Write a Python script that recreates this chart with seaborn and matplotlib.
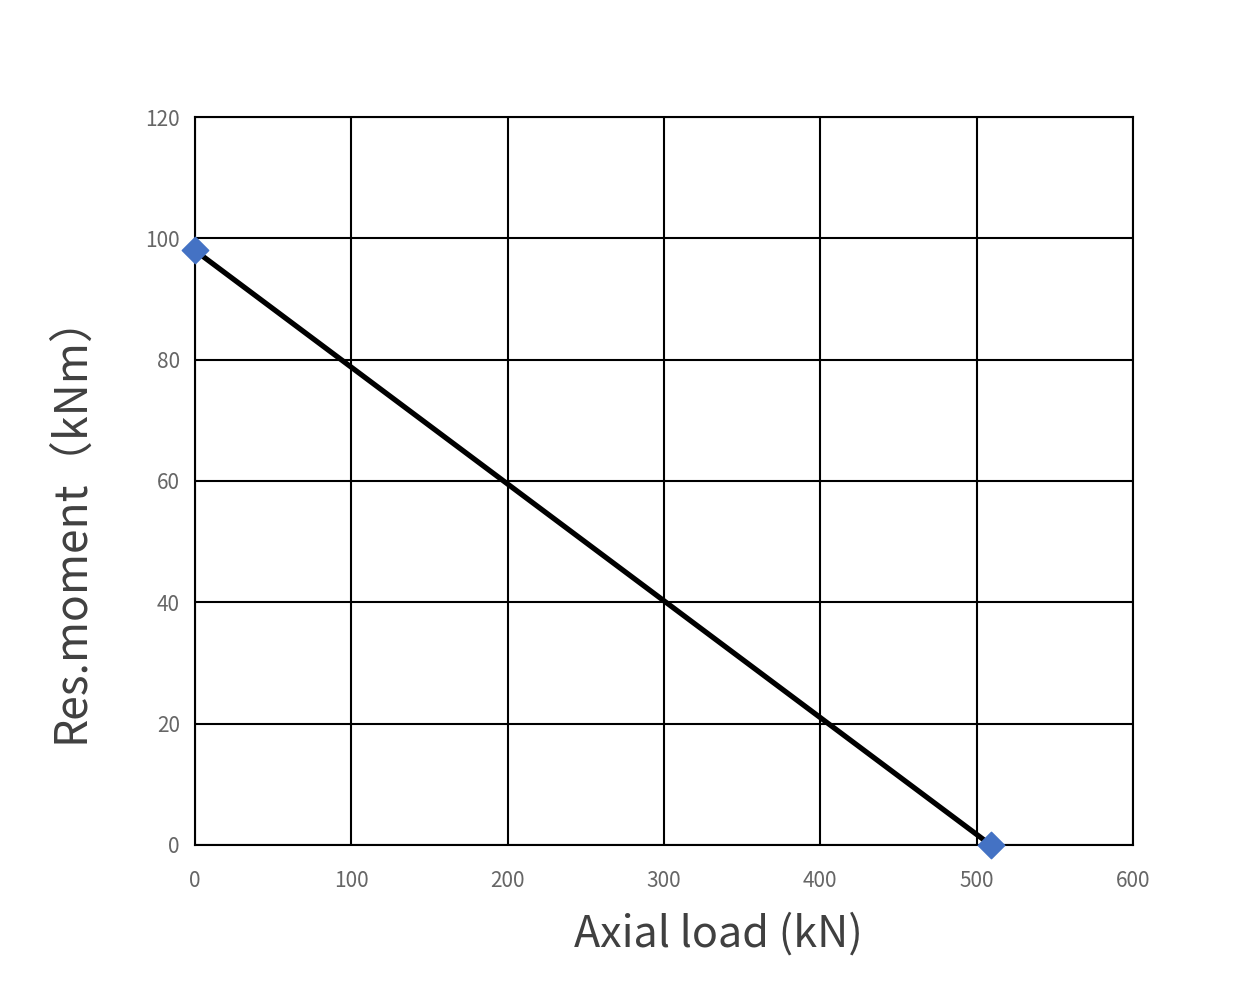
import numpy as np
import matplotlib.pyplot as plt
import pandas as pd
import seaborn as sns

sns.set_style("white")
plt.rcParams['font.family'] = ['Noto Sans CJK SC', 'DejaVu Sans']

# data
axial_load = [0, 509]
res_moment = [98, 0]
xticks = [0, 100, 200, 300, 400, 500, 600]
yticks = [0, 20, 40, 60, 80, 100, 120]

df = pd.DataFrame({'axial': axial_load, 'moment': res_moment})

fig = plt.figure(figsize=(12.6, 9.9), dpi=100)
ax = fig.add_axes([0.1548, 0.1465, 0.7444, 0.7353])

sns.lineplot(data=df, x='axial', y='moment', color='black', linewidth=3.8, ax=ax, zorder=3)
sns.scatterplot(data=df, x='axial', y='moment', marker='D', s=180, color='#4472C4',
                edgecolor='#4472C4', ax=ax, zorder=4, clip_on=False)

ax.set_xlim(0, 600)
ax.set_ylim(0, 120)
ax.set_xticks(xticks)
ax.set_yticks(yticks)
ax.grid(True, color='black', linewidth=1.5)
for s in ax.spines.values():
    s.set_color('black')
    s.set_linewidth(1.5)
ax.tick_params(axis='both', length=0, labelsize=15, labelcolor='#666666')
ax.tick_params(axis='x', pad=18)
ax.tick_params(axis='y', pad=11)

ax.set_xlabel('Axial load (kN)', fontsize=31, color='#404040')
ax.set_ylabel('Res.moment（kNm）', fontsize=32, color='#404040')
ax.xaxis.set_label_coords(0.5576, -0.123)
ax.xaxis.label.set_verticalalignment('center')
ax.yaxis.set_label_coords(-0.133, 0.45)
ax.yaxis.label.set_verticalalignment('center')

plt.savefig('out.png', dpi=100)
